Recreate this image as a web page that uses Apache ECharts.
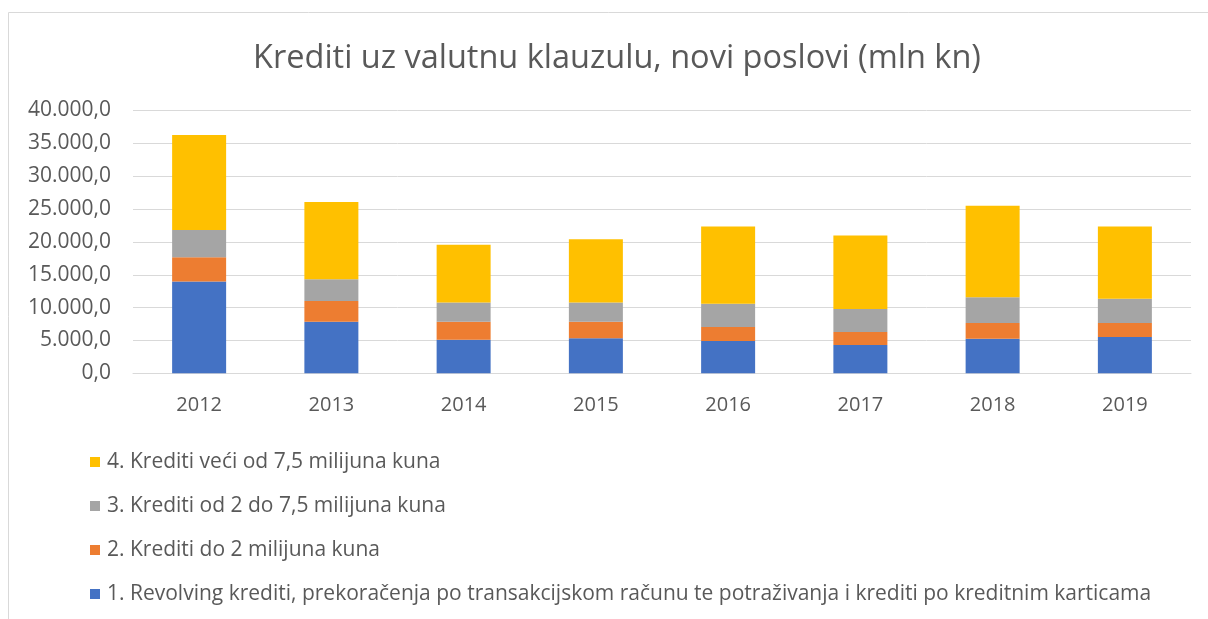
<!DOCTYPE html>
<html>
<head>
<meta charset="utf-8">
<script src="https://cdn.jsdelivr.net/npm/echarts@6/dist/echarts.min.js"></script>
<style>
  html, body { margin: 0; padding: 0; background: #fff; }
  #chart { width: 1208px; height: 619px; }
</style>
</head>
<body>
<div id="chart"></div>
<script>
const years = ['2012', '2013', '2014', '2015', '2016', '2017', '2018', '2019'];
const seriesNames = [
  '1. Revolving krediti, prekoračenja po transakcijskom računu te potraživanja i krediti po kreditnim karticama',
  '2. Krediti do 2 milijuna kuna',
  '3. Krediti od 2 do 7,5 milijuna kuna',
  '4. Krediti veći od 7,5 milijuna kuna'
];
const revolving = [13960, 7860, 5120, 5330, 4920, 4310, 5270, 5530];
const doDva = [3720, 3160, 2740, 2530, 2130, 1980, 2390, 2140];
const odDvaDo75 = [4115, 3310, 2900, 2900, 3550, 3510, 3920, 3660];
const veci75 = [14475, 11730, 8790, 9660, 11740, 11170, 13920, 11020];
const colors = ['#4472C4', '#ED7D31', '#A5A5A5', '#FFC000'];

const font = '"Open Sans", Lato, sans-serif';
const textColor = '#595959';

// 40.000,0 format
const fmt = (v) => {
  const s = String(Math.round(v)).replace(/\B(?=(\d{3})+(?!\d))/g, '.');
  return s + ',0';
};

const chart = echarts.init(document.getElementById('chart'));
const dataSets = [revolving, doDva, odDvaDo75, veci75];

chart.setOption({
  animation: false,
  textStyle: { fontFamily: font },
  graphic: [{
    type: 'rect',
    shape: { x: 8.5, y: 12.5, width: 1400, height: 800 },
    style: { fill: 'none', stroke: '#D9D9D9', lineWidth: 1 },
    silent: true
  }],
  title: {
    text: 'Krediti uz valutnu klauzulu, novi poslovi (mln kn)',
    left: 612,
    textAlign: 'center',
    top: 37,
    textStyle: { fontFamily: font, fontSize: 32.5, fontWeight: 'normal', color: textColor }
  },
  legend: {
    orient: 'vertical',
    left: 85,
    top: 446,
    itemWidth: 10,
    itemHeight: 10,
    itemGap: 22,
    icon: 'rect',
    data: seriesNames.slice().reverse(),
    textStyle: { fontFamily: font, fontSize: 21, lineHeight: 22, color: textColor, padding: [0, 0, 0, 2] }
  },
  grid: { left: 133, right: 17, top: 110.5, bottom: 245.7, containLabel: false },
  xAxis: {
    type: 'category',
    data: years,
    axisLine: { lineStyle: { color: '#D9D9D9', width: 1 } },
    axisTick: { show: false },
    axisLabel: { fontFamily: font, fontSize: 20, color: textColor, margin: 22 }
  },
  yAxis: {
    type: 'value',
    min: 0,
    max: 40000,
    interval: 5000,
    axisLine: { show: false },
    axisTick: { show: false },
    splitLine: { lineStyle: { color: '#D9D9D9', width: 1 } },
    axisLabel: { fontFamily: font, fontSize: 21, color: textColor, margin: 22, formatter: fmt }
  },
  series: dataSets.map((d, i) => ({
    name: seriesNames[i],
    type: 'bar',
    stack: 'total',
    barWidth: 54,
    itemStyle: { color: colors[i] },
    data: d
  }))
});
</script>
</body>
</html>
